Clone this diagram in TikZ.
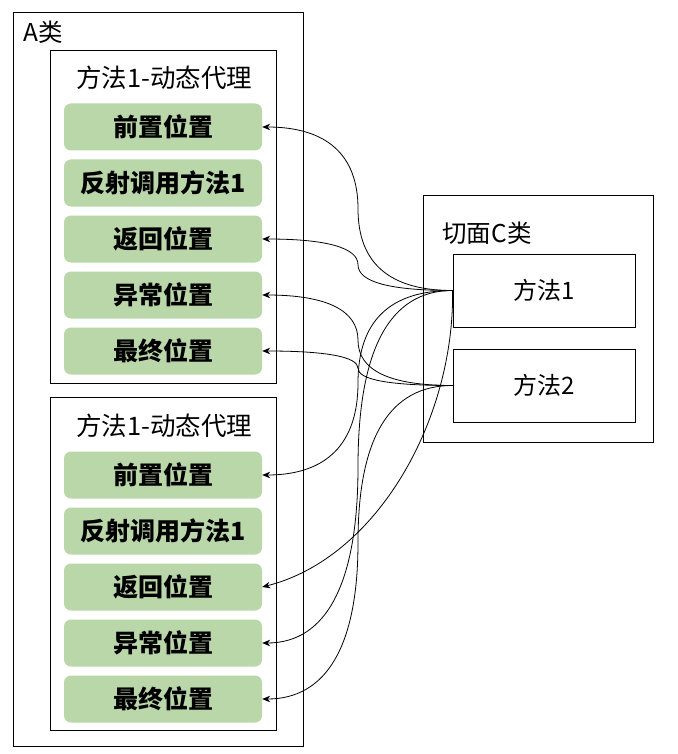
\documentclass[tikz,border=0pt]{standalone}
\usepackage{fontspec}
\setmainfont{Noto Sans CJK SC}
\usetikzlibrary{calc,arrows.meta}
\definecolor{gfill}{RGB}{185,215,168}
\tikzset{
  box/.style={draw=black, line width=0.9pt, fill=white, inner sep=0pt},
  gbox/.style={fill=gfill, draw=none, rounded corners=7pt, minimum width=198pt, minimum height=47pt, inner sep=0pt, font=\fontsize{25}{28}\selectfont\bfseries},
  title/.style={font=\fontsize{24.5}{28}\selectfont, inner sep=0pt},
  conn/.style={line width=0.8pt, -{Stealth[length=8pt,width=6.5pt]}},
}
\newcommand{\dioedge}[3]{%
  \draw[conn] let \p1=(#1.west), \p2=(#2.east), \p3=(#3,0), \n1={(\y1+\y2)/2} in
    (\p1) .. controls ({\x1+2/3*(\x3-\x1)},\y1) and (\x3,{\n1+2/3*(\y1-\n1)}) .. (\x3,\n1)
    .. controls (\x3,{\n1+2/3*(\y2-\n1)}) and ({\x2+2/3*(\x3-\x2)},\y2) .. (\p2);}
\begin{document}
\begin{tikzpicture}[x=1pt,y=-1pt]
\useasboundingbox (0,0) rectangle (677,754);
% class A
\node[box, minimum width=290pt, minimum height=734pt] (A) at (158,379) {};
\node[title] (Atitle) at (43,32) {A类};
% method boxes
\node[box, minimum width=226pt, minimum height=333pt] (up) at (163,216.5) {};
\node[box, minimum width=226pt, minimum height=333pt] (low) at (163,563.5) {};
\node[title, font=\fontsize{25.5}{28}\selectfont] (upt) at (164,78) {方法1-动态代理};
\node[title, font=\fontsize{25.5}{28}\selectfont] (lowt) at (164,426) {方法1-动态代理};
% green boxes upper
\node[gbox] (g1) at (163,127) {前置位置};
\node[gbox] (g2) at (163,183) {反射调用方法1};
\node[gbox] (g3) at (163,239) {返回位置};
\node[gbox] (g4) at (163,295) {异常位置};
\node[gbox] (g5) at (163,351) {最终位置};
% green boxes lower
\node[gbox] (h1) at (163,475) {前置位置};
\node[gbox] (h2) at (163,531) {反射调用方法1};
\node[gbox] (h3) at (163,587) {返回位置};
\node[gbox] (h4) at (163,643) {异常位置};
\node[gbox] (h5) at (163,699) {最终位置};
% aspect class C
\node[box, minimum width=230pt, minimum height=247pt] (C) at (538,318.5) {};
\node[title] (Ct) at (487,233) {切面C类};
\node[box, minimum width=182pt, minimum height=73pt, font=\fontsize{24}{28}\selectfont] (m1) at (544,290.5) {方法1};
\node[box, minimum width=182pt, minimum height=73pt, font=\fontsize{24}{28}\selectfont] (m2) at (544,385.5) {方法2};
% connectors
\dioedge{m1}{g1}{358}
\dioedge{m1}{g3}{358}
\dioedge{m2}{g4}{358}
\dioedge{m2}{g5}{358}
\dioedge{m1}{h1}{358}
\dioedge{m1}{h4}{358}
\dioedge{m2}{h5}{358}
\draw[conn] (m1.west) .. controls +(2,129) and +(115,-29) .. (h3.east);
\end{tikzpicture}
\end{document}
